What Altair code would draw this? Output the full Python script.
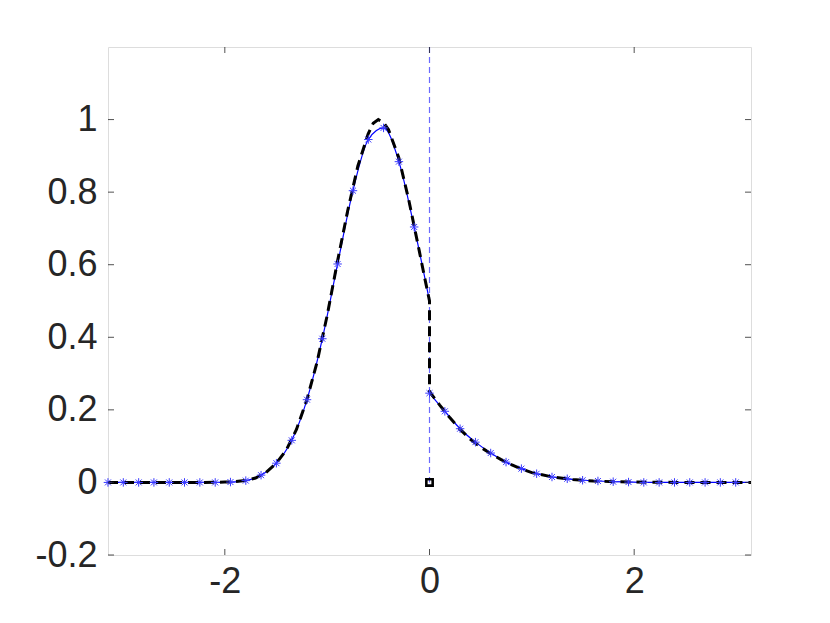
import altair as alt
import pandas as pd

# ---- data ----
# numerical solution: grid points (markers)
grid_x = [-3.142, -2.992, -2.842, -2.693, -2.543, -2.394, -2.244, -2.094, -1.945,
          -1.795, -1.646, -1.496, -1.346, -1.197, -1.047, -0.898, -0.748, -0.598,
          -0.449, -0.299, -0.150, 0.0, 0.150, 0.299, 0.449, 0.598, 0.748, 0.898,
          1.047, 1.197, 1.346, 1.496, 1.646, 1.795, 1.945, 2.094, 2.244, 2.394,
          2.543, 2.693, 2.842, 2.992]
grid_y = [0.0, 0.0, 0.0, 0.0, 0.0, 0.0, 0.0, 0.0, 0.001,
          0.005, 0.020, 0.053, 0.116, 0.228, 0.396, 0.602, 0.804, 0.945,
          0.977, 0.884, 0.704, 0.246, 0.196, 0.148, 0.111, 0.081, 0.056, 0.038,
          0.024, 0.015, 0.010, 0.006, 0.004, 0.002, 0.001, 0.0, 0.0, 0.0,
          0.0, 0.0, 0.0, 0.0]

# numerical solution drawn as a line (left branch ends at the jump, right branch starts there)
num_left_end = [0.0, 0.5]
num_right_start = [0.0, 0.246]
num_right_end = [3.1416, 0.0]

# exact solution (black dashed)
exact_x = [-3.1416, -2.2, -2.0, -1.9, -1.8, -1.7, -1.6, -1.5, -1.4, -1.3, -1.2, -1.1,
           -1.0, -0.9, -0.8, -0.7, -0.6, -0.55, -0.5, -0.45, -0.4, -0.3, -0.2, -0.1,
           -0.05, 0.0, 0.0, 0.1, 0.2, 0.3, 0.4, 0.5, 0.6, 0.7, 0.8, 0.9, 1.0, 1.2,
           1.4, 1.6, 1.8, 2.0, 2.4, 3.1416]
exact_y = [0.0, 0.0, 0.001, 0.002, 0.005, 0.012, 0.027, 0.052, 0.089, 0.146, 0.226, 0.330,
           0.460, 0.608, 0.748, 0.872, 0.960, 0.990, 1.000, 0.992, 0.972, 0.895, 0.775, 0.638,
           0.568, 0.500, 0.250, 0.213, 0.178, 0.146, 0.119, 0.097, 0.079, 0.063, 0.049, 0.037,
           0.027, 0.015, 0.008, 0.004, 0.002, 0.001, 0.0, 0.0]

# x = 0 reference line and marker
jump_x = [0.0]
ref_top = [1.2]
marker_y = [0.0]

x_ticks = [-2, 0, 2]
y_ticks = [-0.2, 0, 0.2, 0.4, 0.6, 0.8, 1.0]
x_domain = [-3.1416, 3.1416]
y_domain = [-0.2, 1.2]

W, H = 643, 508

# ---- tables ----
markers = pd.DataFrame({"x": grid_x, "y": grid_y})
left_pts = [(x, y) for x, y in zip(grid_x, grid_y) if x < 0] + [tuple(num_left_end)]
right_pts = [tuple(num_right_start)] + [(x, y) for x, y in zip(grid_x, grid_y) if x > 0] + [tuple(num_right_end)]
num_line = pd.DataFrame(
    [{"x": x, "y": y, "seg": "L", "i": i} for i, (x, y) in enumerate(left_pts)]
    + [{"x": x, "y": y, "seg": "R", "i": i} for i, (x, y) in enumerate(right_pts)]
)
exact = pd.DataFrame({"x": exact_x, "y": exact_y, "i": list(range(len(exact_x)))})
vref = pd.DataFrame({"x": jump_x, "y": ref_top, "y2": marker_y})
sq = pd.DataFrame({"x": jump_x, "y": marker_y})
xt = pd.DataFrame({"v": x_ticks})
yt = pd.DataFrame({"v": y_ticks})

minus_fix = "replace(datum.label, '\u2212', '-')"
xs = alt.Scale(domain=x_domain, nice=False, zero=False)
ys = alt.Scale(domain=y_domain, nice=False, zero=False)
xax = alt.Axis(values=x_ticks, format="~g", labelExpr=minus_fix, title=None, grid=False,
               domain=False, ticks=False, labelPadding=9, labelFontSize=36,
               labelFont="Liberation Sans", labelColor="#262626")
yax = alt.Axis(values=y_ticks, format="~g", labelExpr=minus_fix, title=None, grid=False,
               domain=False, ticks=False, labelPadding=11, labelFontSize=36,
               labelFont="Liberation Sans", labelColor="#262626")

asterisk = "M-1,0L1,0M0,-1L0,1M-0.7,-0.7L0.7,0.7M-0.7,0.7L0.7,-0.7"

vline = alt.Chart(vref).mark_rule(color="#6a6aff", strokeWidth=1.2, strokeDash=[6, 4]).encode(
    x=alt.X("x:Q", scale=xs, axis=xax), y=alt.Y("y:Q", scale=ys, axis=yax), y2="y2:Q"
)
blue_line = alt.Chart(num_line).mark_line(color="#0000ff", strokeWidth=1.2, interpolate="monotone").encode(
    x=alt.X("x:Q", scale=xs),
    y=alt.Y("y:Q", scale=ys),
    detail="seg:N",
    order="i:Q",
)
black = alt.Chart(exact).mark_line(color="#000000", strokeWidth=3, strokeDash=[10, 6]).encode(
    x=alt.X("x:Q", scale=xs), y=alt.Y("y:Q", scale=ys), order="i:Q"
)
stars = alt.Chart(markers).mark_point(shape=asterisk, filled=False, color="#3a3aff",
                                      strokeWidth=1, size=72, opacity=1).encode(
    x=alt.X("x:Q", scale=xs), y=alt.Y("y:Q", scale=ys)
)
square = alt.Chart(sq).mark_point(shape="square", filled=False, color="#000000",
                                  strokeWidth=2.6, size=40, opacity=1).encode(
    x=alt.X("x:Q", scale=xs), y=alt.Y("y:Q", scale=ys)
)

tick_col = "#262626"
tb = alt.Chart(xt).mark_rule(color=tick_col, strokeWidth=0.8).encode(
    x=alt.X("v:Q", scale=xs), y=alt.value(H), y2=alt.value(H - 6))
tt = alt.Chart(xt).mark_rule(color=tick_col, strokeWidth=0.8).encode(
    x=alt.X("v:Q", scale=xs), y=alt.value(0), y2=alt.value(6))
tl = alt.Chart(yt).mark_rule(color=tick_col, strokeWidth=0.8).encode(
    y=alt.Y("v:Q", scale=ys), x=alt.value(0), x2=alt.value(6))
tr = alt.Chart(yt).mark_rule(color=tick_col, strokeWidth=0.8).encode(
    y=alt.Y("v:Q", scale=ys), x=alt.value(W), x2=alt.value(W - 6))

chart = alt.layer(vline, blue_line, black, stars, square, tb, tt, tl, tr).properties(
    width=W, height=H,
    autosize=alt.AutoSizeParams(type="none"),
    padding={"left": 100, "top": 39, "right": 70, "bottom": 60},
).configure_view(stroke="#8a8a8a", strokeWidth=1).configure(background="white")

chart.save("out.html", embed_options={"renderer": "svg", "actions": False})
